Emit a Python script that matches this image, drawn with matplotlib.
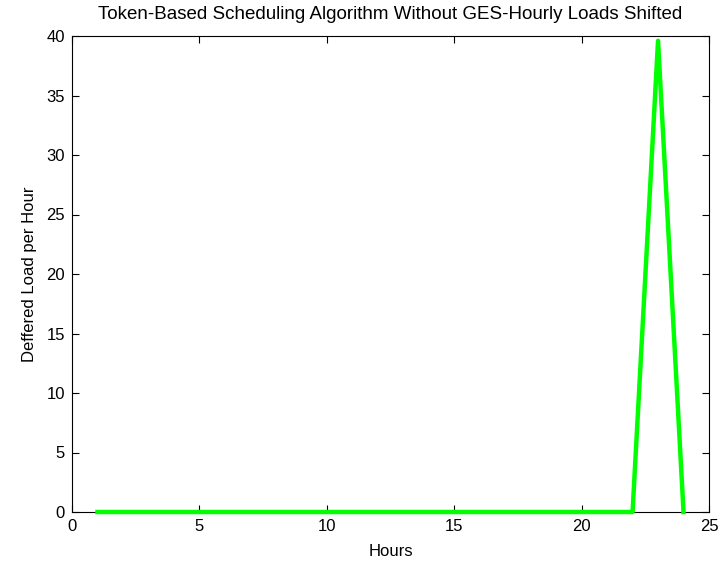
import matplotlib
matplotlib.use('Agg')
import matplotlib.pyplot as plt

# hourly deferred load (hours 1..24)
hours = list(range(1, 25))
deferred_load = [0] * 22 + [39.6, 0]

plt.rcParams['font.family'] = ['Liberation Sans', 'DejaVu Sans']
plt.rcParams['font.size'] = 12

fig = plt.figure(figsize=(7.22, 5.62), dpi=100)
ax = fig.add_axes([72 / 722, 1 - 512 / 562, (709 - 72) / 722, (512 - 36) / 562])
ax.plot(hours, deferred_load, color='#00ff00', linewidth=3.2, clip_on=False, zorder=3)

ax.set_xlim(0, 25)
ax.set_ylim(0, 40)
ax.set_xticks(range(0, 26, 5))
ax.set_yticks(range(0, 41, 5))
ax.tick_params(direction='in', top=True, right=True, length=5, width=0.8,
               colors='black', pad=5)
for s in ax.spines.values():
    s.set_linewidth(0.8)

ax.set_xlabel('Hours', labelpad=7)
ax.set_ylabel('Deffered Load per Hour', labelpad=7)
ax.set_title('Token-Based Scheduling Algorithm Without GES-Hourly Loads Shifted',
             fontsize=13.5, pad=12)

fig.savefig('out.png', dpi=100)
